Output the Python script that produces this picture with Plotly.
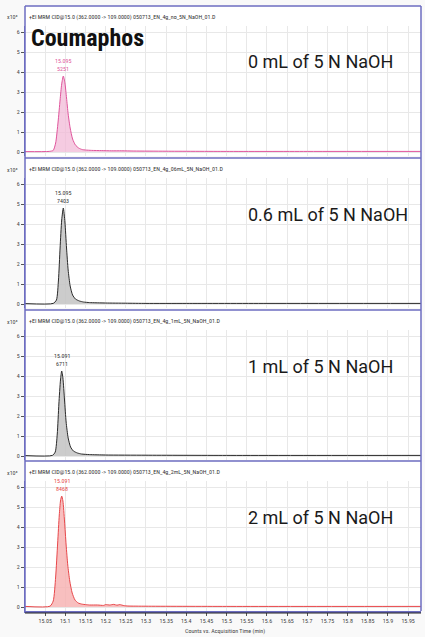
import plotly.graph_objects as go

# ---------------- data ----------------
panel_labels = ["0 mL of 5 N NaOH", "0.6 mL of 5 N NaOH", "1 mL of 5 N NaOH", "2 mL of 5 N NaOH"]
headers = [
    "+EI MRM CID@15.0 (362.0000 -> 109.0000) 050713_EN_4g_no_5N_NaOH_01.D",
    "+EI MRM CID@15.0 (362.0000 -> 109.0000) 050713_EN_4g_06mL_5N_NaOH_01.D",
    "+EI MRM CID@15.0 (362.0000 -> 109.0000) 050713_EN_4g_1mL_5N_NaOH_01.D",
    "+EI MRM CID@15.0 (362.0000 -> 109.0000) 050713_EN_4g_2mL_5N_NaOH_01.D",
]
peak_rt = ["15.095", "15.095", "15.091", "15.091"]
peak_area = ["5251", "7403", "6711", "8468"]

t1 = [15.000, 15.060, 15.070, 15.076, 15.082, 15.087, 15.091, 15.095, 15.099, 15.103, 15.107, 15.112,
      15.118, 15.125, 15.133, 15.142, 15.150, 15.165, 15.190, 15.215, 15.240, 15.270, 15.350, 15.500, 15.700, 15.982]
y1 = [0.02, 0.03, 0.08, 0.45, 1.5, 2.6, 3.4, 3.8, 3.45, 2.7, 1.9, 1.2,
      0.65, 0.35, 0.2, 0.12, 0.1, 0.08, 0.07, 0.06, 0.06, 0.05, 0.04, 0.03, 0.03, 0.03]

t2 = [15.000, 15.070, 15.078, 15.083, 15.087, 15.091, 15.095, 15.099, 15.103, 15.107, 15.112, 15.118,
      15.125, 15.135, 15.145, 15.160, 15.200, 15.250, 15.300, 15.400, 15.600, 15.982]
y2 = [0.02, 0.03, 0.2, 1.2, 2.8, 4.2, 4.8, 4.1, 2.8, 1.7, 0.9, 0.45,
      0.25, 0.15, 0.1, 0.07, 0.05, 0.04, 0.03, 0.03, 0.03, 0.03]

t3 = [15.000, 15.068, 15.075, 15.080, 15.084, 15.088, 15.091, 15.094, 15.098, 15.102, 15.107, 15.113,
      15.120, 15.130, 15.140, 15.160, 15.200, 15.300, 15.500, 15.982]
y3 = [0.02, 0.03, 0.2, 1.1, 2.6, 3.8, 4.25, 3.9, 2.8, 1.7, 0.9, 0.45,
      0.25, 0.15, 0.1, 0.07, 0.05, 0.04, 0.03, 0.03]

t4 = [15.000, 15.062, 15.070, 15.076, 15.081, 15.085, 15.088, 15.091, 15.094, 15.098, 15.102, 15.106,
      15.111, 15.117, 15.124, 15.132, 15.142, 15.150, 15.160, 15.180, 15.195, 15.200, 15.210, 15.220,
      15.228, 15.235, 15.245, 15.255, 15.300, 15.500, 15.982]
y4 = [0.03, 0.04, 0.3, 1.5, 3.2, 4.6, 5.3, 5.55, 5.3, 4.3, 3.1, 2.1,
      1.3, 0.7, 0.35, 0.2, 0.14, 0.12, 0.1, 0.1, 0.08, 0.12, 0.1, 0.13,
      0.09, 0.12, 0.07, 0.05, 0.04, 0.03, 0.03]

x_ticks = [15.05, 15.1, 15.15, 15.2, 15.25, 15.3, 15.35, 15.4, 15.45, 15.5, 15.55, 15.6,
           15.65, 15.7, 15.75, 15.8, 15.85, 15.9, 15.95]
x_tick_text = ["15.05", "15.1", "15.15", "15.2", "15.25", "15.3", "15.35", "15.4", "15.45", "15.5",
               "15.55", "15.6", "15.65", "15.7", "15.75", "15.8", "15.85", "15.9", "15.95"]
y_ticks = [0, 1, 2, 3, 4, 5, 6]

series_t = [t1, t2, t3, t4]
series_y = [y1, y2, y3, y4]

# ---------------- style ----------------
W, H = 425, 637
line_colors = ["#e0559c", "#2a2a2a", "#2a2a2a", "#e8474a"]
fill_colors = ["rgba(242,185,215,0.75)", "rgba(195,195,195,0.85)", "rgba(195,195,195,0.85)", "rgba(246,175,175,0.8)"]
label_colors = ["#e0559c", "#333333", "#333333", "#e8474a"]
frame_blue = "#6c6cc0"
grid = "#e8e8e8"
narrow = "Liberation Sans Narrow, Roboto Condensed, Roboto, sans-serif"

XL, XR = 25, 421
panel_top = [6, 158, 310, 461]

fig = go.Figure()
layout = dict(
    width=W, height=H, margin=dict(l=0, r=0, t=0, b=0),
    paper_bgcolor="#f9f9f9", plot_bgcolor="white", showlegend=False,
)
shapes = []
annotations = []

for k in range(4):
    n = "" if k == 0 else str(k + 1)
    y0 = panel_top[k]
    fig.add_trace(go.Scatter(
        x=series_t[k], y=series_y[k], mode="lines",
        line=dict(color=line_colors[k], width=1, shape="spline", smoothing=0.6),
        fill="tozeroy", fillcolor=fill_colors[k],
        xaxis="x" + n, yaxis="y" + n, hoverinfo="skip",
    ))
    bottom_px = y0 + 150
    top_px = y0 + 20
    layout["yaxis" + n] = dict(
        domain=[1 - bottom_px / H, 1 - top_px / H], anchor="x" + n,
        range=[-0.2, 6.3], tickvals=y_ticks, ticks="outside", ticklen=3, tickwidth=1,
        tickcolor="#555", tickfont=dict(size=6, color="#444", family=narrow),
        showgrid=True, gridcolor=grid, zeroline=False,
        showline=True, linecolor=frame_blue, linewidth=1, fixedrange=True,
    )
    layout["xaxis" + n] = dict(
        domain=[XL / W, XR / W], anchor="y" + n, range=[15.0, 15.982],
        tickvals=x_ticks, ticktext=x_tick_text,
        showticklabels=(k == 3), ticks="outside" if k == 3 else "", ticklen=3,
        tickcolor="#555", tickfont=dict(size=6, color="#444", family=narrow),
        showgrid=True, gridcolor=grid, zeroline=False,
        showline=(k == 3), linecolor=frame_blue, linewidth=1.5, fixedrange=True,
    )
    # header band
    shapes.append(dict(type="rect", xref="paper", yref="paper", x0=XL / W, x1=XR / W,
                       y0=1 - top_px / H, y1=1 - y0 / H, fillcolor="white", line=dict(width=0), layer="below"))
    shapes.append(dict(type="line", xref="paper", yref="paper", x0=XL / W, x1=XR / W,
                       y0=1 - y0 / H, y1=1 - y0 / H, line=dict(color=frame_blue, width=1.5)))
    annotations.append(dict(xref="paper", yref="paper", x=5 / W, y=1 - (y0 + 11) / H,
                            text="x10³", showarrow=False, xanchor="left", yanchor="middle",
                            font=dict(size=6, color="#444", family=narrow)))
    annotations.append(dict(xref="paper", yref="paper", x=(XL + 2) / W, y=1 - (y0 + 11) / H,
                            text=headers[k], showarrow=False, xanchor="left", yanchor="middle",
                            font=dict(size=6, color="#333", family=narrow)))
    # peak label (two lines)
    ip = series_y[k].index(max(series_y[k]))
    annotations.append(dict(xref="x" + n, yref="y" + n, x=series_t[k][ip], y=series_y[k][ip],
                            text=peak_area[k], showarrow=False,
                            xanchor="center", yanchor="bottom", yshift=2,
                            font=dict(size=6, color=label_colors[k], family=narrow)))
    annotations.append(dict(xref="x" + n, yref="y" + n, x=series_t[k][ip], y=series_y[k][ip],
                            text=peak_rt[k], showarrow=False,
                            xanchor="center", yanchor="bottom", yshift=10,
                            font=dict(size=6, color=label_colors[k], family=narrow)))
    # condition label
    annotations.append(dict(xref="paper", yref="paper", x=246 / W, y=1 - (y0 + 56) / H,
                            text=panel_labels[k], showarrow=False, xanchor="left", yanchor="middle",
                            font=dict(size=18, color="#1a1a1a", family="Roboto, sans-serif")))

annotations.append(dict(xref="paper", yref="paper", x=29 / W, y=1 - 38 / H,
                        text="<b>Coumaphos</b>", showarrow=False, xanchor="left", yanchor="middle",
                        font=dict(size=24, color="#111", family=narrow)))
annotations.append(dict(xref="paper", yref="paper", x=225 / W, y=1 - 631 / H,
                        text="Counts vs. Acquisition Time (min)", showarrow=False,
                        xanchor="center", yanchor="middle",
                        font=dict(size=6, color="#444", family=narrow)))
# frame verticals and bottom dark line
shapes.append(dict(type="line", xref="paper", yref="paper", x0=XL / W, x1=XL / W,
                   y0=1 - 611 / H, y1=1 - 6 / H, line=dict(color=frame_blue, width=1.5)))
shapes.append(dict(type="line", xref="paper", yref="paper", x0=XR / W, x1=XR / W,
                   y0=1 - 611 / H, y1=1 - 6 / H, line=dict(color=frame_blue, width=1.5)))
shapes.append(dict(type="line", xref="paper", yref="paper", x0=XL / W, x1=XR / W,
                   y0=1 - 613 / H, y1=1 - 613 / H, line=dict(color="#222", width=1)))

layout["shapes"] = shapes
layout["annotations"] = annotations
fig.update_layout(**layout)
fig.write_html("out.html")
